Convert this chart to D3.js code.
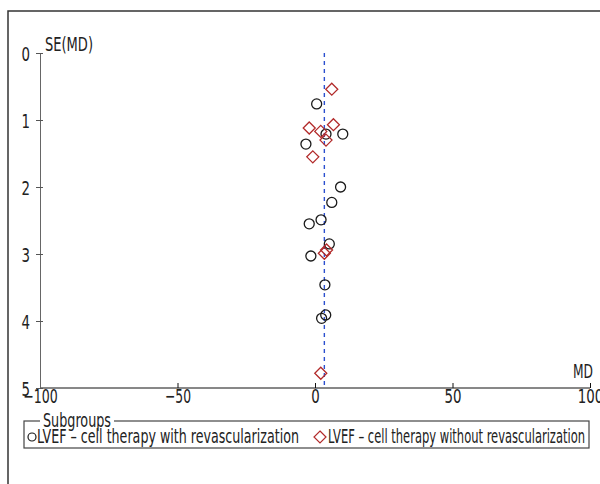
<!DOCTYPE html>
<html>
<head>
<meta charset="utf-8">
<script src="https://cdn.jsdelivr.net/npm/d3@7"></script>
<style>
  body { margin: 0; background: #fff; }
  svg text { font-family: "DejaVu Sans Condensed", "Liberation Sans Narrow", sans-serif; fill: #222; }
</style>
</head>
<body>
<div id="chart"></div>
<script>
// funnel plot data
var withRevascMD = [0.6, 4.0, 10.1, -3.3, 9.3, 6.1, 2.2, -2.1, 5.2, -1.5, 3.6, 3.9, 2.4];
var withRevascSE = [0.76, 1.21, 1.21, 1.36, 2.0, 2.23, 2.49, 2.55, 2.85, 3.03, 3.46, 3.91, 3.96];
var withoutRevascMD = [6.1, 6.7, -2.1, 2.1, 4.0, -0.8, 4.2, 3.4, 2.1];
var withoutRevascSE = [0.54, 1.07, 1.12, 1.17, 1.30, 1.55, 2.94, 2.99, 4.78];
var pooledMD = 3.4;
var xTicks = [-100, -50, 0, 50, 100];
var yTicks = [0, 1, 2, 3, 4, 5];
var groupNames = ['LVEF \u2013 cell therapy with revascularization', 'LVEF \u2013 cell therapy without revascularization'];

var width = 600, height = 484;
var fs = '20px';
var svg = d3.select('#chart').append('svg')
    .attr('width', width)
    .attr('height', height);

// outer frame (only top and left show)
svg.append('rect')
    .attr('x', 8).attr('y', 11)
    .attr('width', 620).attr('height', 500)
    .style('fill', 'none').style('stroke', '#333').style('stroke-width', 1.5);

var x = d3.scaleLinear().domain([-100, 100]).range([40, 590]);
var y = d3.scaleLinear().domain([0, 5]).range([53, 388]);

// squeeze the labels, the original font is a condensed one
function labelWidth(s) { return s.replace('\u2212', '').length * 8.5 + (s.indexOf('\u2212') >= 0 ? 9 : 0); }

var xAxis = svg.append('g')
    .attr('transform', 'translate(0,' + y(5) + ')')
    .call(d3.axisBottom(x).tickValues(xTicks).tickSizeInner(-5).tickSizeOuter(0).tickPadding(1));
xAxis.select('.domain').style('stroke', '#111').attr('d', 'M' + x(-100) + ',0H' + x(100));
xAxis.selectAll('.tick line').style('stroke', '#111');
xAxis.selectAll('text').style('font-size', fs)
    .attr('textLength', function () { return labelWidth(this.textContent); })
    .attr('lengthAdjust', 'spacingAndGlyphs');

var yAxis = svg.append('g')
    .attr('transform', 'translate(' + x(-100) + ',0)')
    .call(d3.axisLeft(y).tickValues(yTicks).tickFormat(d3.format('d')).tickSizeInner(4).tickSizeOuter(0).tickPadding(6));
yAxis.select('.domain').style('stroke', '#666');
yAxis.selectAll('.tick line').attr('x1', 3).style('stroke', '#555');
yAxis.selectAll('text').style('font-size', fs).attr('dy', '0.38em')
    .attr('textLength', function () { return labelWidth(this.textContent); })
    .attr('lengthAdjust', 'spacingAndGlyphs');

svg.append('text')
    .attr('x', x(-100) + 5).attr('y', y(0) - 2)
    .style('font-size', fs)
    .attr('textLength', 48).attr('lengthAdjust', 'spacingAndGlyphs')
    .text('SE(MD)');
svg.append('text')
    .attr('x', 573).attr('y', y(5) - 10)
    .style('font-size', fs)
    .attr('textLength', 20).attr('lengthAdjust', 'spacingAndGlyphs')
    .text('MD');

// pooled estimate
svg.append('line')
    .attr('x1', x(pooledMD)).attr('x2', x(pooledMD))
    .attr('y1', y(0)).attr('y2', y(5))
    .style('stroke', '#2b4fcf').style('stroke-width', 1.4)
    .style('stroke-dasharray', '4,4');

var circles = withRevascMD.map(function (d, i) { return {md: d, se: withRevascSE[i]}; });
var diamonds = withoutRevascMD.map(function (d, i) { return {md: d, se: withoutRevascSE[i]}; });

svg.selectAll('.pt-with')
    .data(circles)
    .enter().append('circle')
    .attr('class', 'pt-with')
    .attr('cx', function (d) { return x(d.md); })
    .attr('cy', function (d) { return y(d.se); })
    .attr('r', 5)
    .style('fill', 'none').style('stroke', '#1a1a1a').style('stroke-width', 1.3);

var diamondPath = 'M0,-6L6,0L0,6L-6,0Z';
svg.selectAll('.pt-without')
    .data(diamonds)
    .enter().append('path')
    .attr('class', 'pt-without')
    .attr('transform', function (d) { return 'translate(' + x(d.md) + ',' + y(d.se) + ')'; })
    .attr('d', diamondPath)
    .style('fill', 'none').style('stroke', '#b22a2a').style('stroke-width', 1.3);

// legend
var lg = svg.append('g');
lg.append('rect')
    .attr('x', 24).attr('y', 421).attr('width', 565).attr('height', 27)
    .style('fill', 'none').style('stroke', '#444').style('stroke-width', 1.2);
lg.append('rect')
    .attr('x', 40).attr('y', 410).attr('width', 74).attr('height', 16)
    .style('fill', '#fff');
lg.append('text')
    .attr('x', 43).attr('y', 427)
    .style('font-size', fs)
    .attr('textLength', 68).attr('lengthAdjust', 'spacingAndGlyphs')
    .text('Subgroups');

lg.append('circle')
    .attr('cx', 32).attr('cy', 437).attr('r', 4)
    .style('fill', 'none').style('stroke', '#1a1a1a').style('stroke-width', 1.2);
lg.append('text')
    .attr('x', 37).attr('y', 443)
    .style('font-size', fs)
    .attr('textLength', 262).attr('lengthAdjust', 'spacingAndGlyphs')
    .text(groupNames[0]);

lg.append('path')
    .attr('transform', 'translate(320,437)')
    .attr('d', diamondPath)
    .style('fill', 'none').style('stroke', '#b22a2a').style('stroke-width', 1.2);
lg.append('text')
    .attr('x', 328).attr('y', 443)
    .style('font-size', fs)
    .attr('textLength', 257).attr('lengthAdjust', 'spacingAndGlyphs')
    .text(groupNames[1]);
</script>
</body>
</html>
